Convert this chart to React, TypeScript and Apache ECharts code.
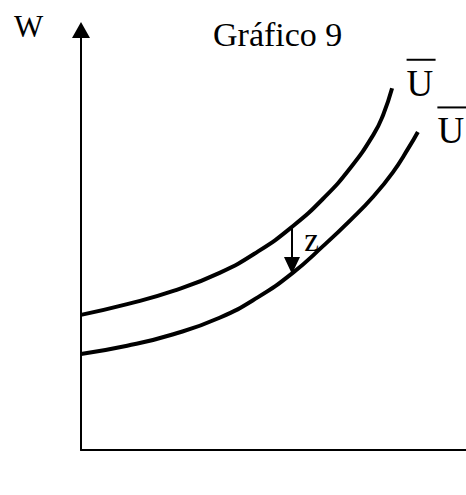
import React, { useEffect, useRef } from "react";
import * as echarts from "echarts";

// Curve data (abstract units: x 0..100, y 0..100)
const upperX = [0, 12, 24, 36, 46, 55, 63, 70, 76, 78.5, 80.8];
const upperY = [32.8, 35.4, 38.6, 43.0, 48.2, 54.3, 61.1, 68.5, 76.6, 81.4, 87.8];
const lowerX = [0, 12, 24, 36, 46, 55, 63, 70, 76, 81, 85, 87.5];
const lowerY = [23.3, 25.3, 28.1, 32.1, 37.1, 43.0, 49.6, 55.8, 61.6, 67.4, 73.2, 77.2];
const curveNames = ["U", "U"];
// z arrow between curves
const zArrowX = [54.8, 54.8];
const zArrowY = [54.1, 44.8];
const zLabel = "z";
const zLabelPos = [59.9, 51];
const titleText = "Gráfico 9";
const yAxisName = "W";

const SERIF = "'Liberation Serif', 'Times New Roman', serif";

function pairs(xs: number[], ys: number[]) {
  return xs.map((x, i) => [x, ys[i]]);
}

function endLabel(name: string, offset: number[]) {
  return {
    symbol: "circle",
    symbolSize: 1,
    itemStyle: { color: "rgba(0,0,0,0)" },
    label: {
      show: true,
      position: offset,
      formatter: "{bar| }\n{u|" + name + "}",
      rich: {
        bar: { width: 29, height: 2, lineHeight: 2, backgroundColor: "#000", fontSize: 1 },
        u: { fontFamily: SERIF, fontSize: 37, lineHeight: 45, color: "#000" },
      },
    },
  };
}

export default function App() {
  const ref = useRef<HTMLDivElement>(null);
  useEffect(() => {
    if (!ref.current) return;
    const chart = echarts.init(ref.current, null, { renderer: "svg" });
    const upper = pairs(upperX, upperY);
    const lower = pairs(lowerX, lowerY);
    chart.setOption({
      animation: false,
      backgroundColor: "#fff",
      title: [
        {
          text: titleText,
          left: 213,
          top: 17,
          padding: 0,
          textStyle: { fontFamily: SERIF, fontSize: 34, fontWeight: "normal", color: "#000" },
        },
        {
          text: yAxisName,
          left: 14,
          top: 11,
          padding: 0,
          textStyle: { fontFamily: SERIF, fontSize: 31, fontWeight: "normal", color: "#000" },
        },
      ],
      grid: { left: 81, right: 0, top: 38, bottom: 45, containLabel: false },
      xAxis: {
        type: "value",
        min: 0,
        max: 100,
        axisLine: { show: true, lineStyle: { color: "#000", width: 2 } },
        axisTick: { show: false },
        axisLabel: { show: false },
        splitLine: { show: false },
      },
      yAxis: {
        type: "value",
        min: 0,
        max: 100,
        axisLine: {
          show: true,
          symbol: ["none", "triangle"],
          symbolSize: [18, 16],
          symbolOffset: [0, 8],
          lineStyle: { color: "#000", width: 2 },
        },
        axisTick: { show: false },
        axisLabel: { show: false },
        splitLine: { show: false },
      },
      series: [
        {
          type: "line",
          name: curveNames[0],
          data: upper,
          smooth: 0.5,
          showSymbol: false,
          lineStyle: { color: "#000", width: 4 },
          markPoint: {
            silent: true,
            data: [{ coord: upper[upper.length - 1], ...endLabel(curveNames[0], [15, -29]) }],
          },
          markLine: {
            silent: true,
            symbol: ["none", "triangle"],
            symbolSize: [16, 17],
            label: { show: false },
            lineStyle: { color: "#000", width: 2, type: "solid" },
            data: [
              [
                { coord: [zArrowX[0], zArrowY[0]] },
                { coord: [zArrowX[1], zArrowY[1]] },
              ],
            ],
          },
        },
        {
          type: "line",
          name: curveNames[1],
          data: lower,
          smooth: 0.5,
          showSymbol: false,
          lineStyle: { color: "#000", width: 4 },
          markPoint: {
            silent: true,
            data: [
              { coord: lower[lower.length - 1], ...endLabel(curveNames[1], [20, -25]) },
              {
                coord: zLabelPos,
                symbol: "circle",
                symbolSize: 1,
                itemStyle: { color: "rgba(0,0,0,0)" },
                label: {
                  show: true,
                  position: "inside",
                  formatter: zLabel,
                  fontFamily: SERIF,
                  fontSize: 33,
                  color: "#000",
                },
              },
            ],
          },
        },
      ],
    });
    return () => chart.dispose();
  }, []);
  return (
    <div
      ref={ref}
      style={{ position: "absolute", left: 0, top: 0, width: 466, height: 495, background: "#fff" }}
    />
  );
}
